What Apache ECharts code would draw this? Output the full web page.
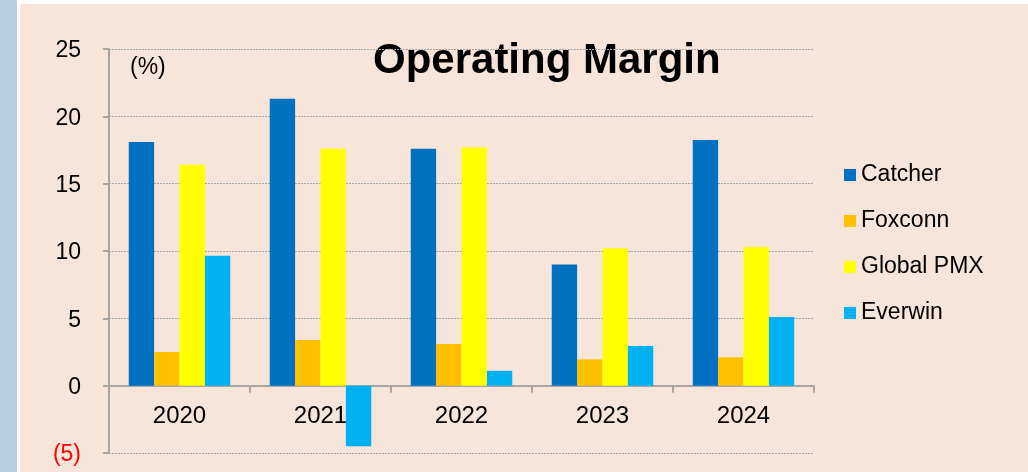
<!DOCTYPE html>
<html>
<head>
<meta charset="utf-8">
<script src="https://cdn.jsdelivr.net/npm/echarts@6/dist/echarts.min.js"></script>
<style>
  html, body { margin: 0; padding: 0; background: #fff; }
  #main { width: 1028px; height: 472px; }
</style>
</head>
<body>
<div id="main"></div>
<script>
// operating margin by year, in percent
var years = ['2020', '2021', '2022', '2023', '2024'];
var catcher = [18.1, 21.3, 17.6, 9.0, 18.25];
var foxconn = [2.5, 3.4, 3.1, 1.95, 2.1];
var globalPmx = [16.4, 17.6, 17.7, 10.2, 10.3];
var everwin = [9.65, -4.5, 1.1, 2.95, 5.1];

var myChart = echarts.init(document.getElementById('main'));
var FONT = 'Liberation Sans, Arial, sans-serif';

function barSeries(name, data, color) {
    return {
        name: name,
        type: 'bar',
        data: data,
        barGap: '0%',
        barCategoryGap: '28%',
        itemStyle: { color: color },
        emphasis: { disabled: true }
    };
}

var option = {
    backgroundColor: '#ffffff',
    animation: false,
    textStyle: { fontFamily: FONT },
    graphic: [
        { type: 'rect', z: -10, shape: { x: 0, y: 0, width: 17, height: 472 }, style: { fill: '#b8cfe2' } },
        { type: 'rect', z: -10, shape: { x: 20, y: 4, width: 1008, height: 468 }, style: { fill: '#f7e5da' } },
        { type: 'text', x: 130, y: 68, style: { text: '(%)', fontSize: 23, fill: '#000', fontFamily: FONT, verticalAlign: 'middle' } },
        { type: 'text', x: 373, y: 61, style: { text: 'Operating Margin', fontSize: 42, fontWeight: 'bold', fill: '#000', fontFamily: FONT, verticalAlign: 'middle' } }
    ],
    legend: {
        orient: 'vertical',
        left: 844,
        top: 163,
        padding: 0,
        icon: 'rect',
        itemWidth: 12,
        itemHeight: 12,
        itemGap: 22,
        selectedMode: false,
        textStyle: { fontSize: 23, color: '#000', lineHeight: 24 },
        data: ['Catcher', 'Foxconn', 'Global PMX', 'Everwin']
    },
    grid: { left: 109, right: 214, top: 49, bottom: 19, outerBoundsMode: 'none', containLabel: false },
    xAxis: {
        type: 'category',
        data: years,
        axisLine: { onZero: true, lineStyle: { color: '#a6a6a6', width: 2 } },
        axisTick: { show: true, length: 7, lineStyle: { color: '#a6a6a6', width: 2 } },
        // v6 puts the labels at the grid bottom, pull them up under the zero line
        axisLabel: { fontSize: 24, color: '#000', margin: -49 }
    },
    yAxis: {
        type: 'value',
        min: -5,
        max: 25,
        interval: 5,
        axisLine: { show: true, lineStyle: { color: '#a6a6a6', width: 2 } },
        axisTick: { show: true, length: 6, lineStyle: { color: '#a6a6a6', width: 2 } },
        splitLine: { lineStyle: { color: '#a6a6a6', type: [2, 1], width: 1 } },
        axisLabel: {
            fontSize: 23,
            margin: 28,
            padding: [4, 0, 0, 0],
            formatter: function (v) { return v < 0 ? '{neg|(' + (-v) + ')}' : String(v); },
            color: '#000',
            rich: { neg: { color: '#ff0000', fontSize: 23 } }
        }
    },
    series: [
        barSeries('Catcher', catcher, '#0070c0'),
        barSeries('Foxconn', foxconn, '#ffc000'),
        barSeries('Global PMX', globalPmx, '#ffff00'),
        barSeries('Everwin', everwin, '#00b0f0')
    ]
};

myChart.setOption(option);
</script>
</body>
</html>
